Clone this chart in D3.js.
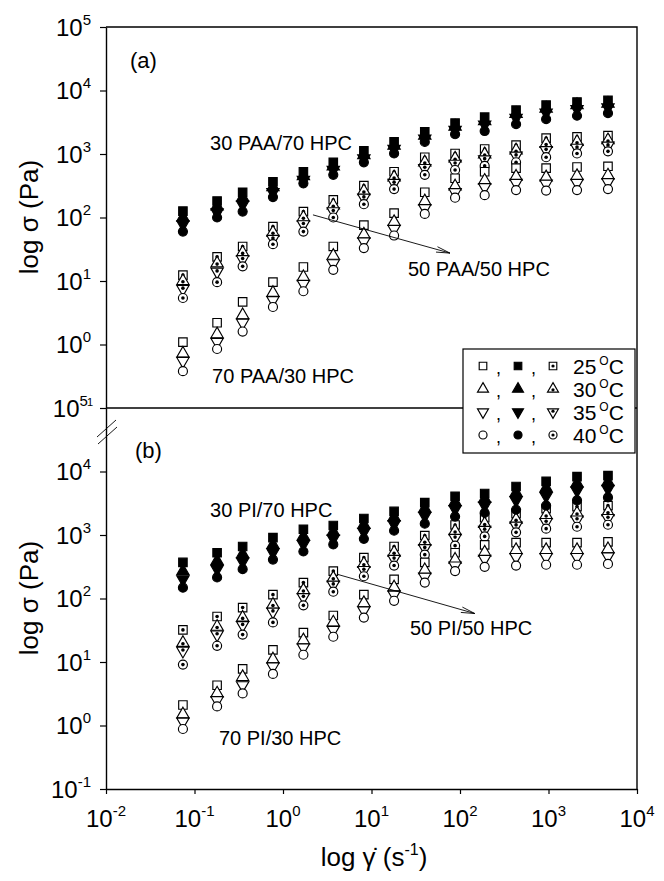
<!DOCTYPE html>
<html>
<head>
<meta charset="utf-8">
<script src="https://cdn.jsdelivr.net/npm/d3@7"></script>
<style>
body { margin: 0; background: #fff; }
svg { display: block; font-family: "Liberation Sans", Arial, sans-serif; }
</style>
</head>
<body>
<script>
// shear rate (1/s), one value per column
var shearRate = [0.074, 0.18, 0.35, 0.77, 1.7, 3.7, 8.2, 18, 40, 88, 190, 430, 940, 2100, 4700];
var temps = [25, 30, 35, 40];
var yTicks = [0.1, 1, 10, 100, 1000, 10000, 100000];
var xTicks = [0.01, 0.1, 1, 10, 100, 1000, 10000];

// (a) 30 PAA/70 HPC  (filled)
var paa30_25 = [126, 182, 250, 365, 525, 740, 1120, 1550, 2240, 3070, 3800, 4900, 5900, 6600, 7000];
var paa30_30 = [100, 150, 205, 300, 450, 640, 960, 1350, 1950, 2700, 3300, 4300, 5200, 5900, 6200];
var paa30_35 = [78, 120, 160, 250, 390, 560, 850, 1200, 1750, 2400, 2900, 3700, 4500, 5100, 5400];
var paa30_40 = [60, 100, 124, 210, 345, 470, 740, 1020, 1550, 2050, 2300, 2950, 3540, 4000, 4400];
// (a) 50 PAA/50 HPC  (dotted)
var paa50_25 = [12.4, 24, 35, 72, 124, 190, 318, 525, 890, 1020, 1200, 1380, 1780, 1860, 1950];
var paa50_30 = [10, 19, 28, 58, 100, 155, 260, 430, 740, 850, 990, 1140, 1450, 1550, 1650];
var paa50_35 = [7.5, 14, 22, 46, 78, 125, 205, 350, 600, 700, 820, 940, 1150, 1250, 1350];
var paa50_40 = [5.4, 9.6, 17, 38, 60, 100, 162, 280, 470, 560, 650, 740, 890, 1020, 1100];
// (a) 70 PAA/30 HPC  (open)
var paa70_25 = [1.09, 2.2, 4.7, 9.6, 16.6, 35, 76, 117, 250, 415, 525, 600, 600, 625, 640];
var paa70_30 = [0.72, 1.45, 2.9, 6.5, 11.5, 25, 54, 85, 180, 310, 380, 440, 430, 450, 460];
var paa70_35 = [0.55, 1.1, 2.2, 5.0, 9.0, 19, 42, 66, 140, 250, 300, 350, 340, 350, 360];
var paa70_40 = [0.38, 0.85, 1.6, 3.9, 6.9, 15, 33, 52, 114, 205, 225, 270, 265, 270, 280];

// (b) 30 PI/70 HPC  (filled)
var pi30_25 = [370, 525, 660, 910, 1230, 1410, 1820, 2350, 3240, 4070, 4500, 5800, 7000, 8300, 8600];
var pi30_30 = [270, 390, 500, 700, 950, 1120, 1450, 1900, 2600, 3300, 3700, 4600, 5500, 6500, 6800];
var pi30_35 = [200, 290, 380, 530, 720, 880, 1120, 1480, 2000, 2550, 2900, 3500, 4100, 5000, 5300];
var pi30_40 = [148, 215, 290, 410, 550, 710, 870, 1170, 1510, 1950, 2240, 2500, 2900, 3500, 3900];
// (b) 50 PI/50 HPC  (dotted)
var pi50_25 = [32, 52, 72, 115, 178, 270, 440, 660, 980, 1440, 1870, 2170, 2600, 2800, 2900];
var pi50_30 = [20, 36, 50, 80, 135, 210, 350, 530, 790, 1150, 1500, 1750, 2050, 2200, 2300];
var pi50_35 = [15, 27, 38, 62, 105, 165, 280, 420, 620, 900, 1200, 1400, 1600, 1750, 1850];
var pi50_40 = [9.1, 18, 27, 42, 78, 128, 224, 330, 490, 680, 950, 1100, 1260, 1350, 1450];
// (b) 70 PI/30 HPC  (open)
var pi70_25 = [2.1, 4.3, 7.8, 15.5, 29, 54, 115, 200, 370, 525, 700, 760, 760, 760, 780];
var pi70_30 = [1.5, 3.2, 5.8, 11, 22, 42, 85, 150, 280, 410, 530, 580, 580, 580, 600];
var pi70_35 = [1.15, 2.5, 4.3, 8.5, 17, 32, 65, 115, 220, 330, 420, 450, 450, 450, 460];
var pi70_40 = [0.88, 2.0, 3.2, 6.5, 13, 25, 50, 92, 178, 270, 315, 330, 340, 340, 350];

// labels in data coordinates: [text, shear rate, stress]
var labelsA = [["(a)", 0.0187, 22600], ["30 PAA/70 HPC", 0.15, 1150], ["50 PAA/50 HPC", 25.8, 12], ["70 PAA/30 HPC", 0.158, 0.248]];
var labelsB = [["(b)", 0.0213, 16600], ["30 PI/70 HPC", 0.15, 1890], ["50 PI/50 HPC", 27.2, 27.1], ["70 PI/30 HPC", 0.189, 0.5]];
var arrowA = [[2.18, 110], [77, 27.5]];
var arrowB = [[4.18, 239], [147, 58]];

var W = 664, H = 881;
var plotLeft = 106, plotRight = 637, plotTop = 27, plotMid = 408, plotBottom = 789;

var x = d3.scaleLog().domain([0.01, 1e4]).range([plotLeft, plotRight]);
var yA = d3.scaleLog().domain([0.1, 1e5]).range([plotMid, plotTop]);
var yB = d3.scaleLog().domain([0.1, 1e5]).range([plotBottom, plotMid]);

var svg = d3.select("body").append("svg")
  .attr("width", W)
  .attr("height", H);

var shapes = { 25: d3.symbolSquare, 30: d3.symbolTriangle, 35: d3.symbolTriangle, 40: d3.symbolCircle };
var sizes = { 25: 72, 30: 66, 35: 66, 40: 64 };

function marker(g, t, style, cx, cy, scale) {
  var sym = d3.symbol().type(shapes[t]).size(sizes[t] * scale);
  var rot = t == 35 ? " rotate(180)" : "";
  g.append("path")
    .attr("d", sym())
    .attr("transform", "translate(" + cx + "," + cy + ")" + rot)
    .attr("fill", style == "filled" ? "#000" : "#fff")
    .attr("stroke", "#000")
    .attr("stroke-width", 1.15);
  if (style == "dotted") {
    g.append("circle")
      .attr("cx", cx)
      .attr("cy", t == 30 ? cy + 0.8 : (t == 35 ? cy - 0.8 : cy))
      .attr("r", 1.8 * Math.sqrt(scale))
      .attr("fill", "#000");
  }
}

var seriesA = [
  ["dotted", [paa50_25, paa50_30, paa50_35, paa50_40]],
  ["open", [paa70_25, paa70_30, paa70_35, paa70_40]],
  ["filled", [paa30_25, paa30_30, paa30_35, paa30_40]]
];
var seriesB = [
  ["dotted", [pi50_25, pi50_30, pi50_35, pi50_40]],
  ["open", [pi70_25, pi70_30, pi70_35, pi70_40]],
  ["filled", [pi30_25, pi30_30, pi30_35, pi30_40]]
];

function drawPanel(series, y, labels, arrow) {
  var g = svg.append("g");
  series.forEach(function(s) {
    s[1].forEach(function(vals, k) {
      vals.forEach(function(v, i) {
        marker(g, temps[k], s[0], x(shearRate[i]), y(v), 1);
      });
    });
  });
  labels.forEach(function(l) {
    svg.append("text")
      .attr("x", x(l[1]))
      .attr("y", y(l[2]))
      .attr("font-size", l[0].length < 4 ? 22 : 20)
      .text(l[0]);
  });
  var x0 = x(arrow[0][0]), y0 = y(arrow[0][1]), x1 = x(arrow[1][0]), y1 = y(arrow[1][1]);
  var ang = Math.atan2(y1 - y0, x1 - x0), len = 14, spread = 0.2;
  svg.append("path")
    .attr("d", "M" + x0 + "," + y0 + "L" + x1 + "," + y1 +
      "M" + (x1 - len * Math.cos(ang - spread)) + "," + (y1 - len * Math.sin(ang - spread)) +
      "L" + x1 + "," + y1 +
      "L" + (x1 - len * Math.cos(ang + spread)) + "," + (y1 - len * Math.sin(ang + spread)))
    .attr("fill", "none")
    .attr("stroke", "#000")
    .attr("stroke-width", 0.9);
}

drawPanel(seriesA, yA, labelsA, arrowA);
drawPanel(seriesB, yB, labelsB, arrowB);

// frame
var frame = svg.append("g").attr("stroke", "#000").attr("stroke-width", 1.4).attr("fill", "none");
frame.append("path").attr("d", "M" + plotLeft + "," + plotTop + "H" + plotRight + "V" + plotBottom);
frame.append("path").attr("d", "M" + plotLeft + "," + plotMid + "H" + plotRight);

// axes
svg.append("g")
  .attr("transform", "translate(" + plotLeft + ",0)")
  .call(d3.axisLeft(yA).tickValues(yTicks).tickSize(6).tickSizeOuter(0).tickFormat(""));
svg.append("g")
  .attr("transform", "translate(" + plotLeft + ",0)")
  .call(d3.axisLeft(yB).tickValues(yTicks.slice(0, 6)).tickSize(6).tickSizeOuter(0).tickFormat(""));
svg.append("g")
  .attr("transform", "translate(0," + plotBottom + ")")
  .call(d3.axisBottom(x).tickValues(xTicks).tickSize(5).tickSizeOuter(0).tickFormat(""));
svg.selectAll(".domain").attr("stroke-width", 1.4);
svg.selectAll(".tick line").attr("stroke-width", 1.2);

function powLabel(px, py, exp, anchor, extra) {
  var t = svg.append("text")
    .attr("x", px).attr("y", py)
    .attr("text-anchor", anchor)
    .attr("font-size", 24);
  t.append("tspan").text("10");
  t.append("tspan").attr("dy", -11).attr("font-size", 15).text(exp);
  if (extra) t.append("tspan").attr("dx", -1).attr("font-size", 11).text(extra);
}

[1, 10, 100, 1000, 10000, 100000].forEach(function(v) {
  powLabel(91, yA(v) + 8.5, String(Math.round(Math.log10(v))), "end");
});
[0.1, 1, 10, 100, 1000, 10000].forEach(function(v) {
  powLabel(91, yB(v) + 8.5, String(Math.round(Math.log10(v))), "end");
});
powLabel(93, plotMid + 8.5, "5", "end", "1");
xTicks.forEach(function(v) {
  powLabel(x(v), plotBottom + 38, String(Math.round(Math.log10(v))), "middle");
});

// axis break marks
var brk = svg.append("g").attr("stroke", "#000").attr("stroke-width", 0.9);
brk.append("line").attr("x1", plotLeft - 9).attr("y1", plotMid + 29).attr("x2", plotLeft + 10).attr("y2", plotMid + 12);
brk.append("line").attr("x1", plotLeft - 8).attr("y1", plotMid + 36).attr("x2", plotLeft + 11).attr("y2", plotMid + 19);

// axis titles
function yTitle(cy) {
  svg.append("text")
    .attr("transform", "translate(38," + cy + ") rotate(-90)")
    .attr("text-anchor", "middle")
    .attr("font-size", 26)
    .text("log \u03c3 (Pa)");
}
yTitle(217);
yTitle(598);

var xt = svg.append("text")
  .attr("x", 374).attr("y", 866)
  .attr("text-anchor", "middle")
  .attr("font-size", 26);
xt.append("tspan").text("log \u03b3\u0307 (s");
xt.append("tspan").attr("dy", -11).attr("font-size", 16).text("-1");
xt.append("tspan").attr("dy", 11).text(")");

// legend
var lg = svg.append("g");
lg.append("rect")
  .attr("x", 463).attr("y", 349).attr("width", 172).attr("height", 104)
  .attr("fill", "#fff").attr("stroke", "#000").attr("stroke-width", 1.2);
temps.forEach(function(t, i) {
  var ry = 366 + i * 23;
  marker(lg, t, "open", 483, ry, 0.8);
  marker(lg, t, "filled", 518, ry, 0.8);
  marker(lg, t, "dotted", 553, ry, 0.8);
  lg.append("text").attr("x", 496).attr("y", ry + 8).attr("font-size", 18).text(",");
  lg.append("text").attr("x", 531).attr("y", ry + 8).attr("font-size", 18).text(",");
  var tx = lg.append("text").attr("x", 573).attr("y", ry + 7.5).attr("font-size", 21);
  tx.append("tspan").text(t);
  tx.append("tspan").attr("dx", 3).attr("dy", -9).attr("font-size", 12).text("O");
  tx.append("tspan").attr("dy", 9).text("C");
});
</script>
</body>
</html>
